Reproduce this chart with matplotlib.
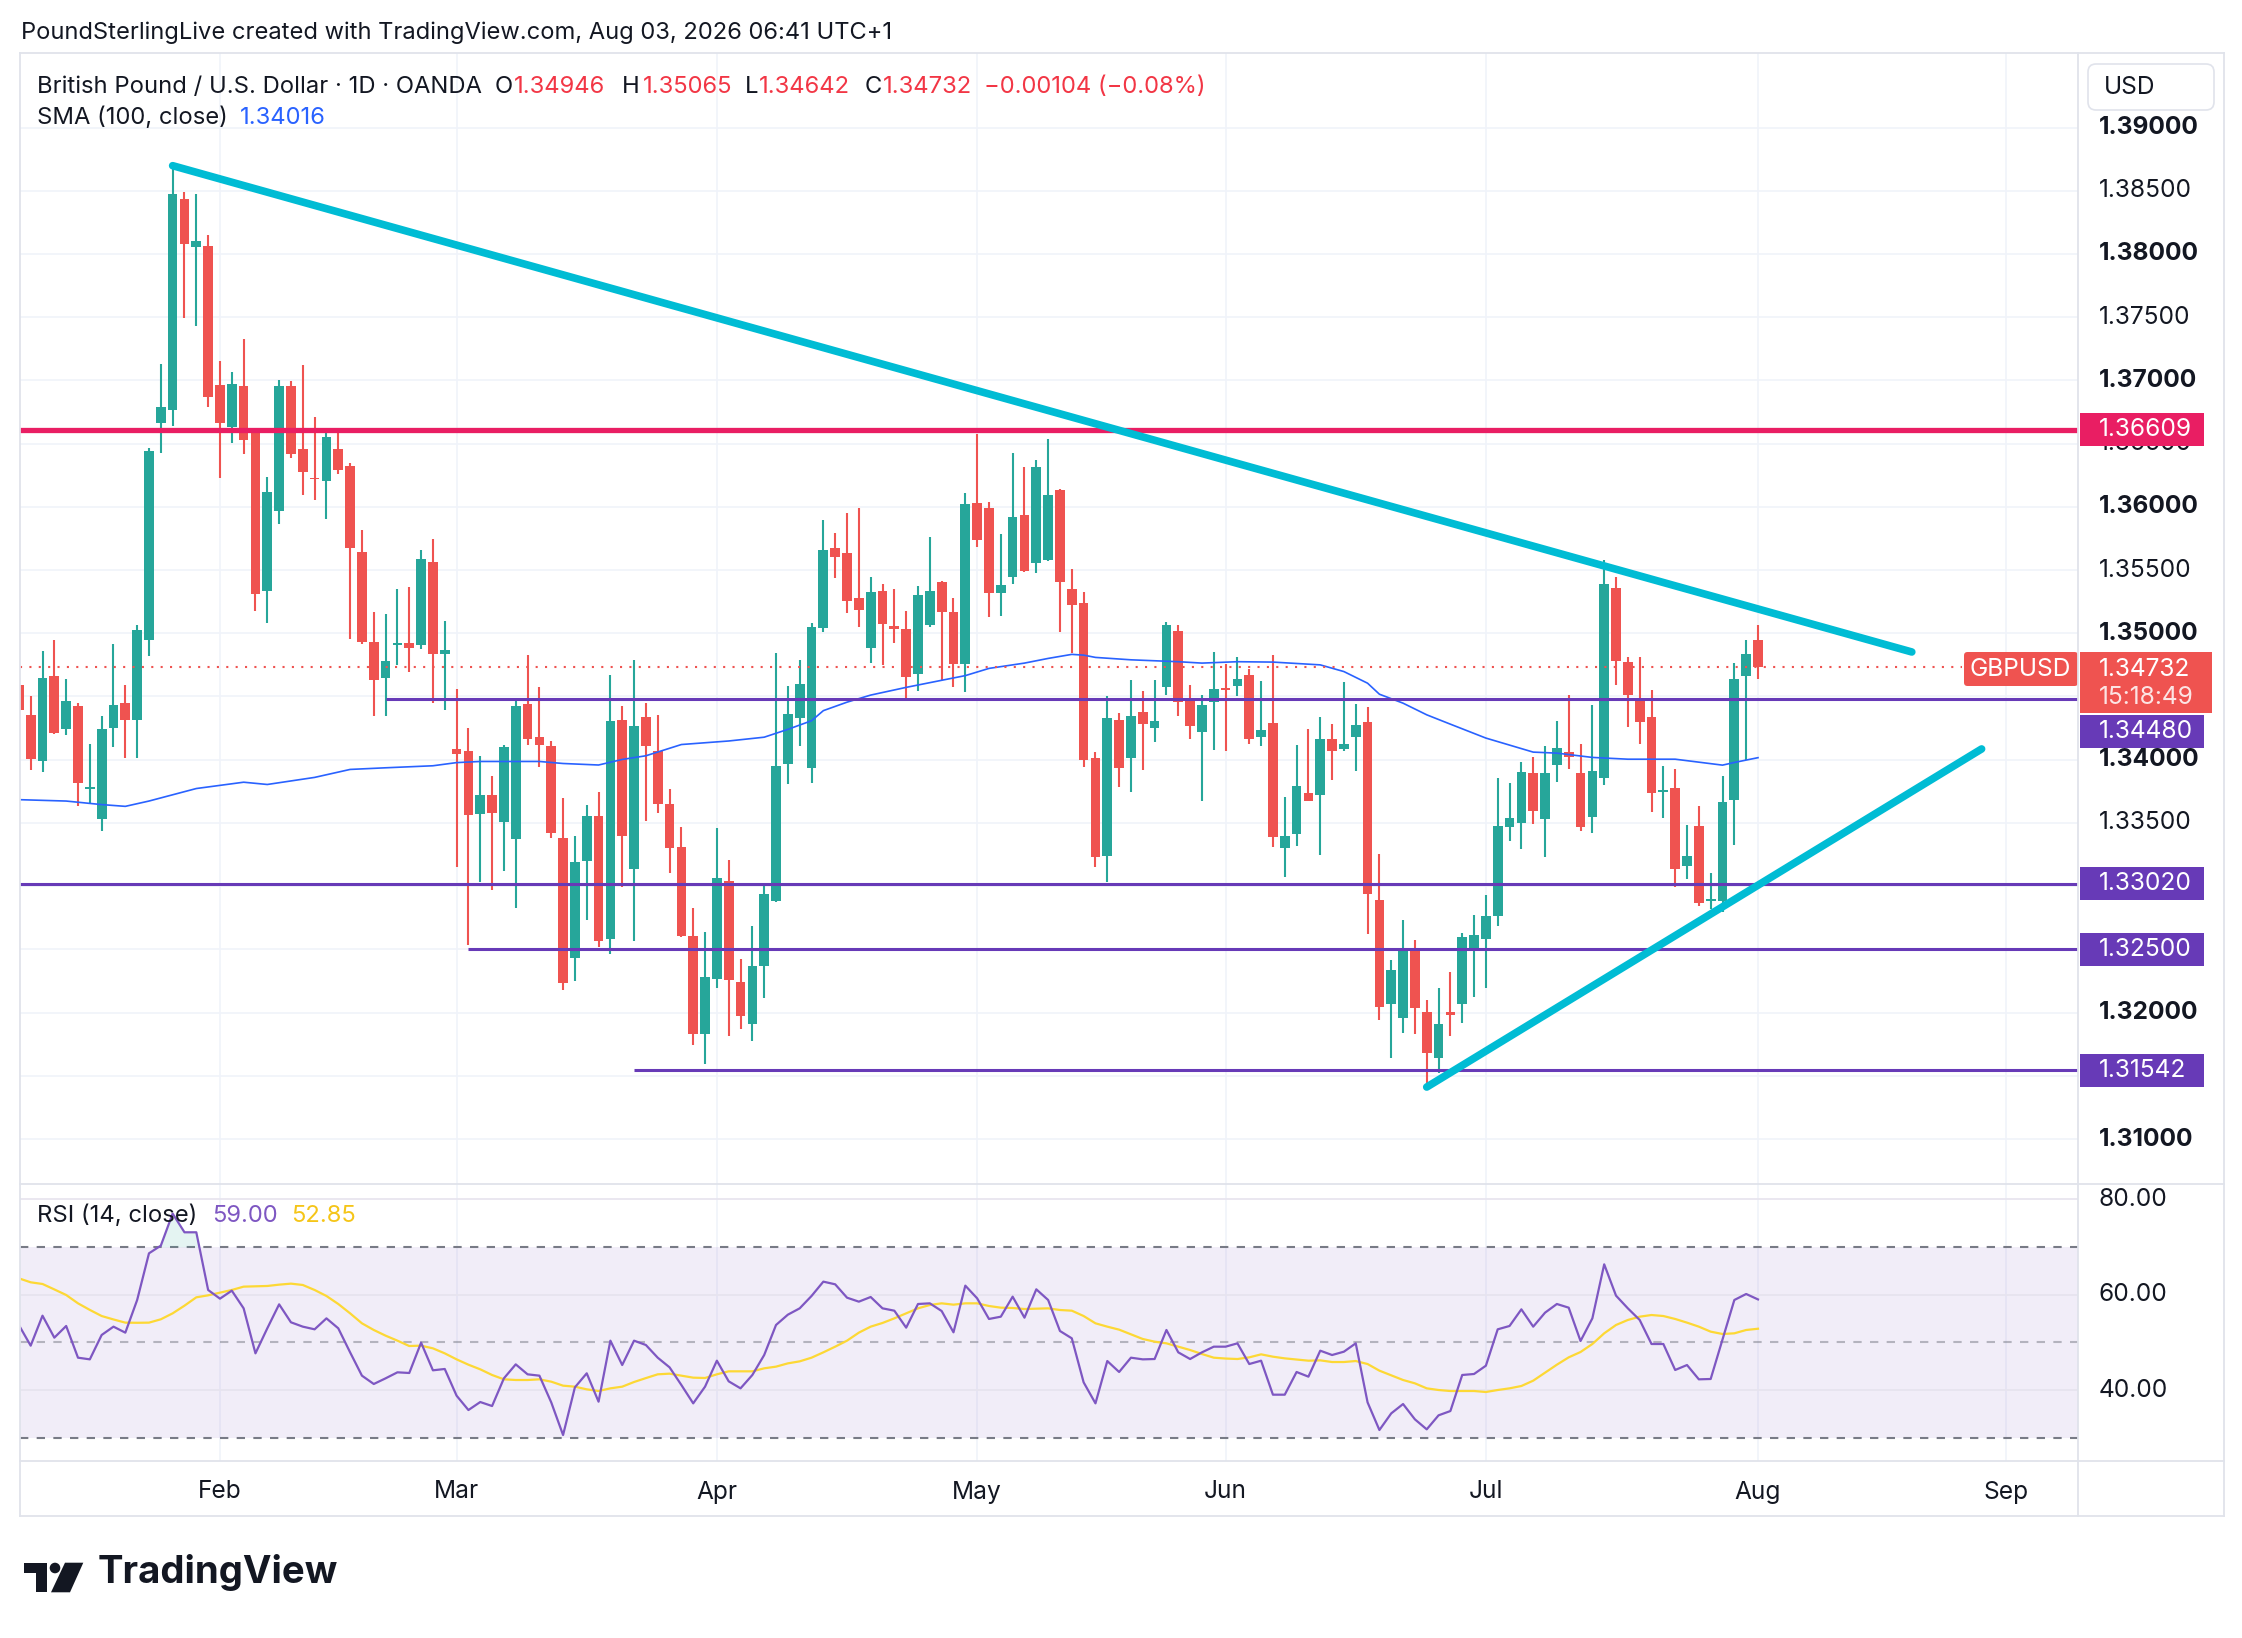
import matplotlib
matplotlib.use("Agg")
import matplotlib.pyplot as plt
import matplotlib.transforms as mtransforms
from matplotlib.lines import Line2D
from matplotlib.patches import Rectangle, Polygon, Circle, FancyBboxPatch
import numpy as np
import pandas as pd

FONT = ["Inter", "DejaVu Sans"]
plt.rcParams["font.family"] = FONT

# ---------------- data ----------------
START, END = "2026-01-08", "2026-08-03"

opens = [
    1.34591, 1.34355, 1.33991, 1.34662, 1.34245, 1.34422, 1.33768, 1.33532, 1.34249, 1.34446,
    1.34316, 1.34944, 1.36664, 1.36763, 1.38433, 1.38052, 1.38062, 1.36964, 1.36632, 1.36953,
    1.36597, 1.35333, 1.35968, 1.36953, 1.36456, 1.36230, 1.36205, 1.36459, 1.36322, 1.35643,
    1.34930, 1.34643, 1.34911, 1.34921, 1.34908, 1.35565, 1.34833, 1.34086, 1.34070, 1.33567,
    1.33723, 1.33508, 1.33376, 1.34442, 1.34180, 1.34108, 1.33382, 1.32429, 1.33195, 1.33554,
    1.32585, 1.34314, 1.33132, 1.34341, 1.34065, 1.33649, 1.33311, 1.32603, 1.31834, 1.32265,
    1.33040, 1.32240, 1.31911, 1.32372, 1.32886, 1.33963, 1.34326, 1.33932, 1.35040, 1.35674,
    1.35634, 1.35277, 1.34886, 1.35335, 1.35058, 1.35034, 1.34674, 1.35065, 1.35403, 1.35169,
    1.34756, 1.36034, 1.35994, 1.35315, 1.35441, 1.35939, 1.35552, 1.35581, 1.36131, 1.35354,
    1.35236, 1.34013, 1.33242, 1.34314, 1.34013, 1.34377, 1.34251, 1.34577, 1.35020, 1.34480,
    1.34222, 1.34453, 1.34564, 1.34585, 1.34669, 1.34177, 1.34290, 1.33302, 1.33412, 1.33736,
    1.33723, 1.34163, 1.34086, 1.34181, 1.34302, 1.32888, 1.32064, 1.31954, 1.32512, 1.32006,
    1.31638, 1.32006, 1.32064, 1.32499, 1.32578, 1.32767, 1.33468, 1.33499, 1.33894, 1.33533,
    1.33955, 1.34057, 1.33894, 1.33549, 1.33857, 1.35360, 1.34776, 1.34486, 1.34336, 1.33747,
    1.33775, 1.33162, 1.33475, 1.32885, 1.32885, 1.33681, 1.34663, 1.34946,
]
highs = [
    1.34650, 1.34503, 1.34856, 1.34944, 1.34637, 1.34450, 1.34122, 1.34344, 1.34916, 1.34591,
    1.35068, 1.36463, 1.37126, 1.38698, 1.38486, 1.38475, 1.38147, 1.37151, 1.37070, 1.37328,
    1.36597, 1.36233, 1.37003, 1.36992, 1.37119, 1.36710, 1.36593, 1.36619, 1.36347, 1.35818,
    1.35165, 1.35149, 1.35349, 1.35368, 1.35659, 1.35746, 1.35097, 1.34558, 1.34252, 1.34030,
    1.33873, 1.34117, 1.34467, 1.34830, 1.34577, 1.34148, 1.33695, 1.33398, 1.33642, 1.33742,
    1.34671, 1.34426, 1.34789, 1.34449, 1.34354, 1.33772, 1.33465, 1.32825, 1.32634, 1.33458,
    1.33203, 1.32425, 1.32686, 1.33003, 1.34843, 1.34585, 1.34788, 1.35080, 1.35895, 1.35794,
    1.35951, 1.35994, 1.35443, 1.35391, 1.35351, 1.35175, 1.35372, 1.35763, 1.35412, 1.35280,
    1.36113, 1.36574, 1.36042, 1.35784, 1.36429, 1.36318, 1.36368, 1.36534, 1.36139, 1.35507,
    1.35328, 1.34058, 1.34501, 1.34369, 1.34630, 1.34546, 1.34630, 1.35091, 1.35064, 1.34590,
    1.34511, 1.34848, 1.34756, 1.34809, 1.34717, 1.34619, 1.34827, 1.33702, 1.34118, 1.34242,
    1.34336, 1.34281, 1.34613, 1.34439, 1.34413, 1.33254, 1.32417, 1.32730, 1.32572, 1.32098,
    1.32196, 1.32322, 1.32630, 1.32775, 1.32928, 1.33855, 1.33815, 1.33981, 1.34020, 1.34110,
    1.34310, 1.34513, 1.34123, 1.34431, 1.35576, 1.35442, 1.34810, 1.34810, 1.34550, 1.33949,
    1.33925, 1.33483, 1.33633, 1.33104, 1.33870, 1.34763, 1.34944, 1.35065,
]
lows = [
    1.34330, 1.33920, 1.33903, 1.34200, 1.34196, 1.33631, 1.33655, 1.33433, 1.34097, 1.34016,
    1.34016, 1.34821, 1.36427, 1.36639, 1.37494, 1.37427, 1.36791, 1.36226, 1.36505, 1.36417,
    1.35174, 1.35078, 1.35862, 1.36385, 1.36092, 1.36050, 1.35905, 1.36259, 1.34958, 1.34915,
    1.34342, 1.34349, 1.34752, 1.34696, 1.34877, 1.34452, 1.34393, 1.33148, 1.32532, 1.33032,
    1.32970, 1.33117, 1.32829, 1.34117, 1.33939, 1.33382, 1.32178, 1.32250, 1.32732, 1.32522,
    1.32460, 1.32992, 1.32569, 1.33517, 1.33581, 1.33101, 1.32597, 1.31741, 1.31597, 1.32197,
    1.31818, 1.31871, 1.31772, 1.32117, 1.32874, 1.33809, 1.34105, 1.33812, 1.35009, 1.35434,
    1.35163, 1.35049, 1.34763, 1.34748, 1.34920, 1.34480, 1.34542, 1.35049, 1.34634, 1.34578,
    1.34538, 1.35686, 1.35125, 1.35138, 1.35388, 1.35481, 1.35473, 1.35573, 1.35007, 1.34841,
    1.33945, 1.33155, 1.33031, 1.33787, 1.33747, 1.33921, 1.34137, 1.34511, 1.34348, 1.34164,
    1.33676, 1.34079, 1.34071, 1.34506, 1.34124, 1.34111, 1.33308, 1.33070, 1.33320, 1.33670,
    1.33249, 1.33841, 1.34070, 1.33913, 1.32622, 1.31938, 1.31638, 1.31840, 1.31827, 1.31411,
    1.31524, 1.31814, 1.31914, 1.32125, 1.32196, 1.32688, 1.33354, 1.33296, 1.33494, 1.33228,
    1.33820, 1.33928, 1.33433, 1.33420, 1.33799, 1.34592, 1.34260, 1.34126, 1.33588, 1.33541,
    1.32991, 1.33057, 1.32846, 1.32820, 1.32793, 1.33328, 1.33999, 1.34642,
]
closes = [
    1.34397, 1.34009, 1.34644, 1.34213, 1.34461, 1.33814, 1.33786, 1.34245, 1.34432, 1.34316,
    1.35026, 1.36445, 1.36787, 1.38475, 1.38076, 1.38101, 1.36869, 1.36664, 1.36975, 1.36526,
    1.35308, 1.36117, 1.36953, 1.36417, 1.36279, 1.36220, 1.36551, 1.36290, 1.35671, 1.34927,
    1.34633, 1.34780, 1.34921, 1.34886, 1.35587, 1.34833, 1.34868, 1.34048, 1.33561, 1.33723,
    1.33579, 1.34102, 1.34426, 1.34161, 1.34120, 1.33420, 1.32232, 1.33189, 1.33554, 1.32569,
    1.34305, 1.33398, 1.34267, 1.34105, 1.33646, 1.33298, 1.32609, 1.31834, 1.32280, 1.33065,
    1.32258, 1.31972, 1.32372, 1.32941, 1.33951, 1.34363, 1.34600, 1.35049, 1.35658, 1.35603,
    1.35258, 1.35182, 1.35326, 1.35077, 1.35034, 1.34658, 1.35305, 1.35335, 1.35172, 1.34754,
    1.36026, 1.35739, 1.35315, 1.35380, 1.35923, 1.35489, 1.36318, 1.36097, 1.35402, 1.35225,
    1.34000, 1.33234, 1.34327, 1.33934, 1.34348, 1.34282, 1.34303, 1.35064, 1.34459, 1.34269,
    1.34435, 1.34559, 1.34551, 1.34638, 1.34164, 1.34235, 1.33387, 1.33394, 1.33789, 1.33676,
    1.34163, 1.34065, 1.34123, 1.34271, 1.32938, 1.32048, 1.32338, 1.32512, 1.32033, 1.31682,
    1.31911, 1.31980, 1.32596, 1.32612, 1.32762, 1.33473, 1.33539, 1.33902, 1.33591, 1.33894,
    1.34092, 1.34018, 1.33465, 1.33907, 1.35387, 1.34781, 1.34513, 1.34299, 1.33739, 1.33760,
    1.33138, 1.33236, 1.32870, 1.32899, 1.33662, 1.34636, 1.34836, 1.34732,
]

# SMA(100) as read at some bars
sma_bars = [0, 4, 7, 9, 11, 15, 19, 21, 25, 28, 31, 35, 37, 39, 44, 46, 49, 51, 53, 56,
            60, 63, 65, 67, 68, 70, 72, 75, 78, 80, 82, 85, 87, 89, 90, 91, 94, 98, 100, 103,
            106, 110, 112, 114, 115, 117, 119, 121, 124, 128, 130, 133, 136, 140, 144, 145, 147]
sma_vals = [1.33684, 1.33673, 1.33645, 1.33631, 1.33673, 1.33772, 1.33822, 1.33804, 1.33860, 1.33923,
            1.33936, 1.33952, 1.33977, 1.33986, 1.33986, 1.33970, 1.33958, 1.34002, 1.34031, 1.34120,
            1.34148, 1.34178, 1.34240, 1.34308, 1.34388, 1.34455, 1.34511, 1.34572, 1.34628, 1.34665,
            1.34722, 1.34764, 1.34801, 1.34833, 1.34827, 1.34809, 1.34790, 1.34775, 1.34764, 1.34775,
            1.34772, 1.34750, 1.34697, 1.34605, 1.34518, 1.34447, 1.34355, 1.34281, 1.34171, 1.34060,
            1.34052, 1.34018, 1.34004, 1.34004, 1.33957, 1.33978, 1.34016]

rsi_vals = [
    53.64, 49.30, 55.59, 50.98, 53.43, 46.78, 46.43, 51.54, 53.29, 52.03,
    58.88, 68.67, 70.28, 77.00, 73.08, 73.08, 60.98, 59.16, 60.84, 57.13,
    47.69, 52.94, 57.97, 54.20, 53.29, 52.73, 55.03, 52.94, 47.90, 43.01,
    41.26, 42.45, 43.71, 43.57, 49.93, 44.13, 44.41, 38.81, 35.80, 37.48,
    36.64, 42.45, 45.38, 43.29, 43.01, 37.41, 30.56, 40.56, 43.50, 37.55,
    50.35, 45.24, 50.35, 49.44, 46.78, 44.76, 41.05, 37.20, 40.70, 46.15,
    41.82, 40.35, 43.15, 47.34, 53.64, 55.80, 57.13, 59.72, 62.73, 62.17,
    59.37, 58.53, 59.51, 57.13, 56.64, 53.08, 58.04, 58.18, 56.57, 52.10,
    61.89, 59.23, 54.90, 55.38, 59.58, 55.17, 61.12, 58.88, 52.38, 50.84,
    41.61, 37.20, 46.08, 43.78, 46.78, 46.43, 46.50, 52.59, 47.90, 46.50,
    47.90, 49.09, 49.09, 49.79, 45.45, 46.15, 39.02, 39.02, 43.78, 42.80,
    48.25, 47.34, 48.04, 49.79, 37.41, 31.61, 35.10, 37.06, 33.85, 31.75,
    34.69, 35.59, 43.15, 43.36, 45.10, 52.73, 53.43, 56.92, 53.29, 56.22,
    58.04, 57.27, 50.28, 55.03, 66.36, 59.79, 57.13, 54.69, 49.65, 49.65,
    44.20, 45.24, 42.24, 42.31, 50.63, 58.88, 60.14, 59.00,
]
rsi_ma_vals = [
    63.43, 62.59, 62.24, 61.10, 59.93, 58.18, 56.80, 55.52, 54.80, 54.13,
    54.10, 54.13, 54.83, 56.08, 57.69, 59.44, 59.86, 60.42, 60.98, 61.68,
    61.75, 61.82, 62.10, 62.31, 62.03, 60.98, 59.72, 58.04, 56.08, 53.99,
    52.59, 51.40, 50.35, 49.23, 49.30, 48.74, 47.69, 46.43, 45.31, 44.34,
    43.15, 42.24, 42.10, 42.10, 42.24, 41.75, 40.91, 40.70, 40.14, 39.79,
    40.35, 40.70, 41.68, 42.50, 43.29, 43.43, 43.00, 42.59, 42.52, 43.29,
    43.92, 43.92, 43.92, 44.55, 44.90, 45.59, 46.01, 46.78, 47.90, 49.09,
    50.35, 52.03, 53.29, 54.06, 55.03, 56.08, 57.13, 57.83, 58.18, 57.90,
    58.18, 58.18, 57.62, 57.27, 57.20, 56.99, 57.06, 57.13, 56.78, 56.64,
    55.52, 53.99, 53.29, 52.66, 51.68, 50.70, 50.14, 49.79, 49.09, 48.39,
    47.55, 46.78, 46.60, 46.50, 46.85, 47.48, 46.99, 46.64, 46.40, 46.15,
    46.22, 45.87, 45.87, 46.08, 45.45, 44.06, 43.08, 42.10, 41.40, 40.35,
    40.00, 39.79, 39.79, 39.79, 39.58, 40.00, 40.35, 40.84, 41.96, 43.64,
    45.31, 46.85, 47.97, 49.65, 51.89, 53.64, 54.69, 55.38, 55.73, 55.52,
    54.90, 54.13, 53.29, 52.24, 51.75, 51.89, 52.59, 52.85,
]

# horizontal levels drawn on the chart
levels = [1.36609, 1.34480, 1.33020, 1.32500, 1.31542]
level_start_bars = [-5, 31, -5, 38, 52]
level_colors = ["#E91E63", "#673AB7", "#673AB7", "#673AB7", "#673AB7"]

# trend lines (anchor bar, price)
upper_trend_bars = [13, 160.0]
upper_trend_prices = [1.38698, 1.34852]
lower_trend_bars = [119, 165.9]
lower_trend_prices = [1.31411, 1.34085]

last_price = 1.34732
countdown = "15:18:49"
sma_last = 1.34016
price_ticks = np.round(np.arange(1.310, 1.3901, 0.005), 3)
# axis labels that sit completely under a price tag in the reference
hidden_ticks = [1.345, 1.330, 1.325, 1.315]
rsi_ticks = [80, 60, 40]

# ---------------- layout ----------------
W, H = 2242, 1638
GREEN, RED = "#26A69A", "#EF5350"
TXT = "#131722"
BORDER = "#E0E3EB"
GRID = "#F0F3FA"

fig = plt.figure(figsize=(W / 100, H / 100), dpi=100)
fig.patch.set_facecolor("white")
renderer = fig.canvas.get_renderer()
PX = mtransforms.Affine2D().scale(0.01, -0.01).translate(0, H / 100) + fig.dpi_scale_trans


def box(x0, y0, x1, y1):
    return [x0 / W, 1 - y1 / H, (x1 - x0) / W, (y1 - y0) / H]


def px_price(y):
    return 1.39 - (y - 127.5) / 12644


def px_bar(x):
    return (x - 18.84) / 11.831


def fit_size(s, target, weight="normal"):
    t = fig.text(0, 0, s, fontsize=20, weight=weight)
    w = t.get_window_extent(renderer).width
    t.remove()
    return 20 * target / w


def ptext(x, y, s, **kw):
    kw.setdefault("va", "center")
    kw.setdefault("ha", "left")
    return fig.text(x, y, s, transform=PX, **kw)


n = len(closes)
x = np.arange(n)
o, h, l, c = map(np.array, (opens, highs, lows, closes))

ax = fig.add_axes(box(20, 53, 2078, 1184))
ax_r = fig.add_axes(box(20, 1184, 2078, 1461))
ax_y = fig.add_axes(box(2078, 53, 2224, 1184))
ax_ry = fig.add_axes(box(2078, 1184, 2224, 1461))

xlim = (px_bar(20), px_bar(2078))
price_lim = (px_price(1184), px_price(53))
rsi_lim = (25.11, 83.21)

for a in (ax, ax_r, ax_y, ax_ry):
    a.set_xticks([])
    a.set_yticks([])
    for s in a.spines.values():
        s.set_visible(False)
    a.patch.set_alpha(0)

ax.set_xlim(*xlim)
ax.set_ylim(*price_lim)
ax_r.set_xlim(*xlim)
ax_r.set_ylim(*rsi_lim)
ax_y.set_xlim(0, 146)
ax_y.set_ylim(*price_lim)
ax_ry.set_xlim(0, 146)
ax_ry.set_ylim(*rsi_lim)

# month ticks from the trading calendar
days = pd.bdate_range(START, "2026-09-30")
month_idx = [int(np.argmax(days.month == m)) for m in range(2, 10)]
month_lbl = [days[i].strftime("%b") for i in month_idx]

# grids
for p in price_ticks:
    ax.axhline(p, color=GRID, lw=1.2, zorder=0)
for a in (ax, ax_r):
    for mi in month_idx:
        a.axvline(mi, color=GRID, lw=1.2, zorder=0)

# candles
up = c >= o
cols = np.where(up, GREEN, RED)
ax.vlines(x, l, h, colors=cols, lw=1.5, zorder=2)
ax.bar(x, np.maximum(np.abs(c - o), 0.00009), bottom=np.minimum(o, c), width=0.82,
       color=cols, lw=0, zorder=2.5)

# SMA
ax.plot(sma_bars, sma_vals, color="#2962FF", lw=1.2, zorder=3)

# levels
for lv, sb, col in zip(levels, level_start_bars, level_colors):
    ax.hlines(lv, sb, xlim[1] + 5, colors=col, lw=3.8 if col == "#E91E63" else 2.2, zorder=4)

# last price dotted line
ax.hlines(last_price, xlim[0], px_bar(1962), colors=RED, lw=1.5, linestyles=(0, (1, 3.5)), zorder=4)

# trend lines
ax.plot(upper_trend_bars, upper_trend_prices, color="#00BCD4", lw=5.5, solid_capstyle="round", zorder=5)
ax.plot(lower_trend_bars, lower_trend_prices, color="#00BCD4", lw=5.5, solid_capstyle="round", zorder=5)

# RSI pane
ax_r.axhspan(30, 70, color="#7E57C2", alpha=0.1, lw=0, zorder=0)
for v in rsi_ticks:
    ax_r.axhline(v, color="#E6E3EE", lw=1.2, zorder=0.5)
ax_r.axhline(70, color="#787B86", lw=1.5, ls=(0, (4, 4)), zorder=1)
ax_r.axhline(30, color="#787B86", lw=1.5, ls=(0, (4, 4)), zorder=1)
ax_r.axhline(50, color="#787B86", lw=1.5, ls=(0, (4, 4)), alpha=0.5, zorder=1)
rsi = np.array(rsi_vals)
ax_r.fill_between(x, 70, rsi, where=rsi > 70, interpolate=True, color=GREEN, alpha=0.12, lw=0)
ax_r.plot(x, rsi_ma_vals, color="#FDD835", lw=1.6, zorder=3)
ax_r.plot(x, rsi_vals, color="#7E57C2", lw=1.6, zorder=4)

# ---------------- frame lines ----------------
for (x0, y0, x1, y1) in [(20, 53, 2224, 53), (20, 1516, 2224, 1516), (20, 53, 20, 1516),
                         (2224, 53, 2224, 1516), (2078, 53, 2078, 1516),
                         (20, 1184, 2224, 1184), (20, 1461, 2224, 1461)]:
    fig.add_artist(Line2D([x0, x1], [y0, y1], transform=PX, color=BORDER, lw=1.3))

# ---------------- price scale ----------------
fs_axis = fit_size("1.38500", 93)
for p in price_ticks:
    if any(abs(p - hp) < 1e-6 for hp in hidden_ticks):
        continue
    bold = abs(p * 100 - round(p * 100)) < 1e-6
    ax_y.text(21, p, f"{p:.5f}", va="center", ha="left", fontsize=fs_axis, color=TXT,
              weight="bold" if bold else "normal", zorder=1)
for v in rsi_ticks:
    ax_ry.text(21, v, f"{v:.2f}", va="center", ha="left", fontsize=fs_axis, color=TXT)

tag_h = 33 / 12644


def tag(center, label, color, x1=126, hgt=tag_h):
    ax_y.add_patch(Rectangle((2, center - hgt / 2), x1 - 2, hgt, color=color, zorder=5, lw=0))
    ax_y.text(21, center, label, va="center", ha="left", fontsize=fs_axis, color="white", zorder=6)


tag_pos = [levels[0], px_price(731), levels[2], levels[3], levels[4]]
for lv, pos, col in zip(levels, tag_pos, level_colors):
    tag(pos, f"{lv:.5f}", col)

# current price tag with countdown
ax_y.add_patch(Rectangle((2, px_price(713)), 132, px_price(652) - px_price(713), color=RED, zorder=5, lw=0))
ax_y.text(21, px_price(669), f"{last_price:.5f}", va="center", ha="left", fontsize=fs_axis,
          color="white", zorder=6)
ax_y.text(21, px_price(697), countdown, va="center", ha="left", fontsize=fs_axis,
          color="white", alpha=0.85, zorder=6)

# symbol label at right of the chart
ax.add_patch(FancyBboxPatch((px_bar(1964), px_price(686)), px_bar(2078) - px_bar(1964),
                            px_price(652) - px_price(686), boxstyle="round,pad=0,rounding_size=0.3",
                            mutation_aspect=tag_h / 2.8, color=RED, lw=0, zorder=6, clip_on=False))
ptext(2020, 669, "GBPUSD", ha="center", fontsize=fs_axis, color="white", zorder=7)

# USD box
fig.add_artist(FancyBboxPatch((2088, 64), 126, 46, boxstyle="round,pad=0,rounding_size=8",
                              transform=PX, facecolor="white", edgecolor=BORDER, lw=1.2))
ptext(2104, 87, "USD", fontsize=fs_axis, color=TXT)

# ---------------- time axis ----------------
for mi, lb in zip(month_idx, month_lbl):
    tr = mtransforms.blended_transform_factory(ax_r.transData, PX)
    fig.text(mi, 1492, lb, transform=tr, ha="center", va="center", fontsize=fs_axis, color=TXT)

# ---------------- legends ----------------
fs_title = fit_size("PoundSterlingLive created with TradingView.com, Aug 03, 2026 06:41 UTC+1", 870)
ptext(21, 33, "PoundSterlingLive created with TradingView.com, Aug 03, 2026 06:41 UTC+1",
      fontsize=fs_title, color=TXT)

fs_leg = fit_size("British Pound / U.S. Dollar · 1D · OANDA", 444)
LRED = "#F23645"
ptext(37, 87, "British Pound / U.S. Dollar · 1D · OANDA", fontsize=fs_leg, color=TXT)
for lx, letter, vx, val in [(495, "O", 514, opens[-1]), (622, "H", 643, highs[-1]),
                            (745, "L", 759, lows[-1]), (865, "C", 883, closes[-1])]:
    ptext(lx, 87, letter, fontsize=fs_leg, color=TXT)
    ptext(vx, 87, f"{val:.5f}", fontsize=fs_leg, color=LRED)
chg = closes[-1] - closes[-2]
ptext(984, 87, f"{chg:+.5f} ({chg / closes[-2] * 100:+.2f}%)".replace("-", "\u2212"),
      fontsize=fs_leg, color=LRED)
ptext(37, 118, "SMA (100, close)", fontsize=fs_leg, color=TXT)
ptext(240, 118, f"{sma_last:.5f}", fontsize=fs_leg, color="#2962FF")

ptext(37, 1216, "RSI (14, close)", fontsize=fs_leg, color=TXT)
ptext(212, 1216, f"{rsi_vals[-1]:.2f}", fontsize=fs_leg, color="#7E57C2")
ptext(291, 1216, f"{rsi_ma_vals[-1]:.2f}", fontsize=fs_leg, color="#F5C518")

# ---------------- footer logo ----------------
fig.add_artist(Polygon([(24.3, 1562.7), (46.7, 1562.7), (46.7, 1592.3), (35.7, 1592.3),
                        (35.7, 1573.3), (24.3, 1573.3)], closed=True, transform=PX,
                       color="#131722", lw=0))
fig.add_artist(Circle((55, 1568), 5.3, transform=PX, color="#131722", lw=0))
fig.add_artist(Polygon([(65, 1562.7), (83.3, 1562.7), (70, 1592.3), (51, 1592.3)], closed=True,
                       transform=PX, color="#131722", lw=0))
fs_logo = fit_size("TradingView", 241, weight="bold")
ptext(98, 1582.7, "TradingView", fontsize=fs_logo, weight="bold", color="#131722", va="baseline")

fig.savefig("out.png", dpi=100, facecolor="white")
